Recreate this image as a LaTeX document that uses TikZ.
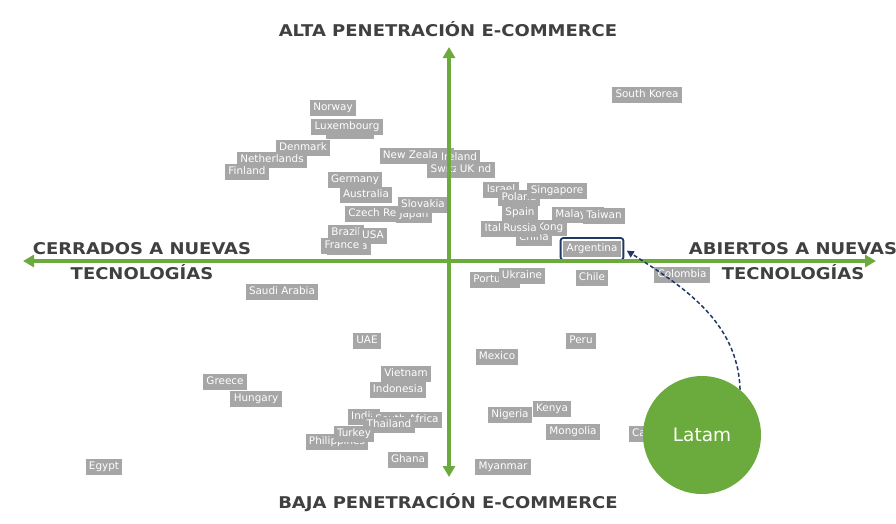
\documentclass[tikz,border=0pt]{standalone}
\usepackage{fontspec}
\setmainfont{DejaVu Sans}
\newfontfamily\axisfont{DejaVu Sans}[FakeStretch=1.11]
\usetikzlibrary{arrows.meta,fit}
\definecolor{axgreen}{HTML}{6BAA3C}
\definecolor{lblgray}{HTML}{A6A6A6}
\definecolor{axtext}{HTML}{404040}
\definecolor{navyc}{HTML}{1F3864}
\tikzset{
  ctry/.style={fill=lblgray, text=white, font=\fontsize{10.4}{12}\selectfont,
    inner xsep=3.3pt, inner ysep=0pt, minimum height=16.5pt, text height=7.8pt, text depth=2.2pt},
  axlabel/.style={text=axtext, font=\axisfont\bfseries\fontsize{16.2}{25}\selectfont, align=center, inner sep=0pt},
  axisline/.style={draw=axgreen, line width=3.5pt},
}
\begin{document}
\begin{tikzpicture}[x=1pt,y=-1pt]
\useasboundingbox[fill=white] (0,0) rectangle (896,523);

% ---- upper left quadrant ----
\node[ctry] (sweden) at (350,131) {Sweden};
\node[ctry] (luxembourg) at (347,127) {Luxembourg};
\node[ctry] (norway) at (333,108) {Norway};
\node[ctry] (denmark) at (303,148) {Denmark};
\node[ctry] (netherlands) at (272,160) {Netherlands};
\node[ctry] (finland) at (247,172) {Finland};
\node[ctry] (newzealand) at (417,156) {New Zealand};
\node[ctry] (switzerland) at (461,170) {Switzerland};
\node[ctry] (ireland) at (459,158) {Ireland};
\node[ctry] (uk) at (467,170) {UK};
\node[ctry] (germany) at (355,180) {Germany};
\node[ctry] (australia) at (366,195) {Australia};
\node[ctry] (czech) at (388,214) {Czech Republic};
\node[ctry] (japan) at (414,215) {Japan};
\node[ctry] (slovakia) at (423,205) {Slovakia};
\node[ctry] (brazil) at (346,233) {Brazil};
\node[ctry] (usa) at (373,236) {USA};
\node[ctry] (austria) at (349,247) {Austria};
\node[ctry] (france) at (342,246) {France};

% ---- upper right quadrant ----
\node[ctry] (southkorea) at (647,95) {South Korea};
\node[ctry] (israel) at (501,190) {Israel};
\node[ctry] (poland) at (519,198) {Poland};
\node[ctry] (singapore) at (557,191) {Singapore};
\node[ctry] (hongkong) at (535,228) {Hong Kong};
\node[ctry] (spain) at (520,213) {Spain};
\node[ctry] (china) at (534,238) {China};
\node[ctry] (italy) at (496,229) {Italy};
\node[ctry] (russia) at (520,229) {Russia};
\node[ctry] (malaysia) at (578,215) {Malaysia};
\node[ctry] (taiwan) at (604,216) {Taiwan};
\node[ctry] (arg) at (592,249) {Argentina};
\node[fit=(arg), inner sep=2.5pt, draw=navyc, line width=1.8pt, rounded corners=2.5pt] (argframe) {};

% ---- lower right quadrant ----
\node[ctry] (portugal) at (495,280) {Portugal};
\node[ctry] (ukraine) at (522,276) {Ukraine};
\node[ctry] (chile) at (592,278) {Chile};
\node[ctry] (colombia) at (682,275) {Colombia};
\node[ctry] (peru) at (581,341) {Peru};
\node[ctry] (mexico) at (497,357) {Mexico};
\node[ctry] (nigeria) at (510,415) {Nigeria};
\node[ctry] (kenya) at (552,409) {Kenya};
\node[ctry] (mongolia) at (573,432) {Mongolia};
\node[ctry] (canada) at (652,434) {Canada};
\node[ctry] (myanmar) at (503,467) {Myanmar};

% ---- lower left quadrant ----
\node[ctry] (saudi) at (282,292) {Saudi Arabia};
\node[ctry] (uae) at (367,341) {UAE};
\node[ctry] (vietnam) at (406,374) {Vietnam};
\node[ctry] (indonesia) at (398,390) {Indonesia};
\node[ctry] (greece) at (225,382) {Greece};
\node[ctry] (hungary) at (256,399) {Hungary};
\node[ctry] (india) at (364,417) {India};
\node[ctry] (southafrica) at (407,420) {South Africa};
\node[ctry] (thailand) at (389,425) {Thailand};
\node[ctry] (philippines) at (337,442) {Philippines};
\node[ctry] (turkey) at (354,434) {Turkey};
\node[ctry] (ghana) at (408,460) {Ghana};
\node[ctry] (egypt) at (104,467) {Egypt};

% ---- axes ----
\coordinate (vtop) at (449,47);
\coordinate (vbot) at (449,477);
\coordinate (hleft) at (23,261);
\coordinate (hright) at (876,261);
\draw[axisline, {Triangle[length=11pt,width=12pt]}-{Triangle[length=11pt,width=12pt]}] (vbot) -- (vtop);
\draw[axisline, {Triangle[length=11pt,width=12pt]}-{Triangle[length=11pt,width=12pt]}] (hleft) -- (hright);

\node[axlabel] (ltop) at (448,29) {ALTA PENETRACIÓN E-COMMERCE};
\node[axlabel] (lbot) at (448,503) {BAJA PENETRACIÓN E-COMMERCE};
\node[axlabel] (lleft) at (142,261) {CERRADOS A NUEVAS\\TECNOLOGÍAS};
\node[axlabel] (lright) at (793,261) {ABIERTOS A NUEVAS\\TECNOLOGÍAS};

% ---- Latam ----
\node[circle, fill=axgreen, minimum size=118pt, inner sep=0pt, text=white,
      font=\fontsize{18.5}{20}\selectfont] (latam) at (702,435) {Latam};
\draw[navyc, line width=1.5pt, dash pattern=on 4pt off 2.5pt, shorten >=3pt,
      -{Triangle[length=7pt,width=7pt]}]
  (latam.50) .. controls (738,320) and (680,285) .. (argframe.east);
\end{tikzpicture}
\end{document}
